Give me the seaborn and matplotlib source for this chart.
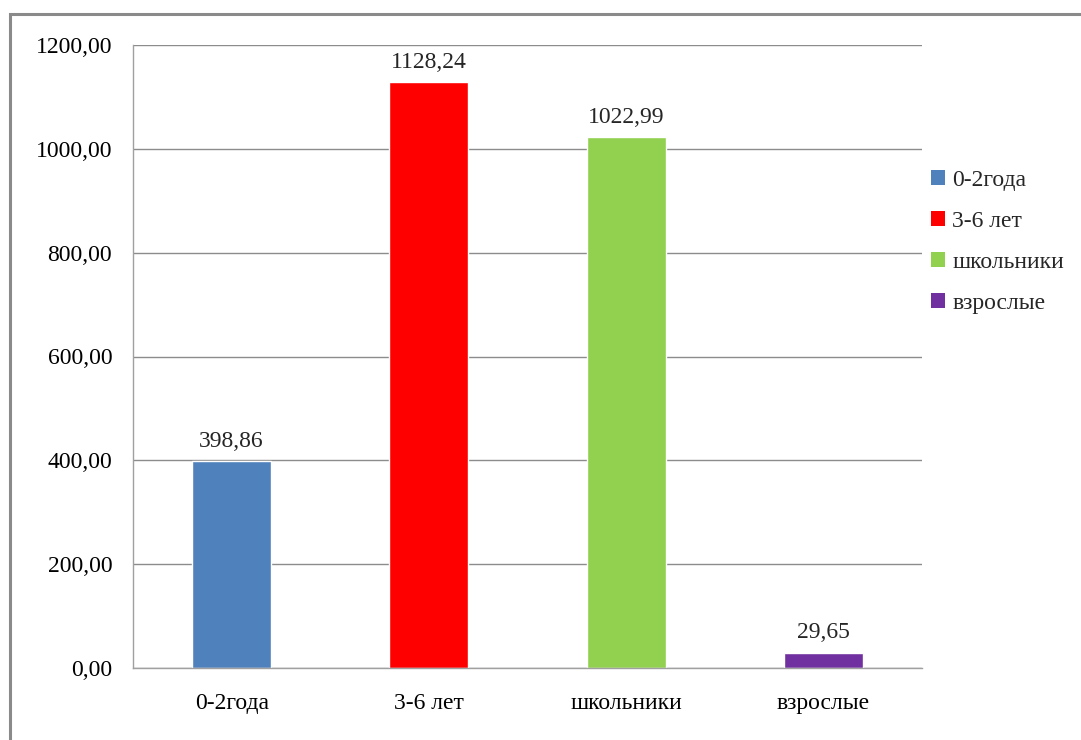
import matplotlib
matplotlib.use("Agg")
import matplotlib.pyplot as plt
import seaborn as sns
import pandas as pd
from matplotlib.patches import Rectangle, Patch

categories = ["0-2года", "3-6 лет", "школьники", "взрослые"]
values = [398.86, 1128.24, 1022.99, 29.65]
colors = ["#4F81BD", "#FF0000", "#92D050", "#7030A0"]
yticks = [0, 200, 400, 600, 800, 1000, 1200]

sns.set_theme(style="white")
plt.rcParams['font.family'] = ['Liberation Serif', 'DejaVu Serif']

df = pd.DataFrame({"cat": categories, "val": values})

fig = plt.figure(figsize=(10.81, 7.4), dpi=100)
ax = fig.add_axes([133/1081, 1-668/740, (922-133)/1081, (668-45)/740])

sns.barplot(data=df, x="cat", y="val", hue="cat", palette=colors, order=categories,
            hue_order=categories, width=0.4, dodge=False, legend=False, ax=ax, saturation=1)

FS = 17
ax.set_xlim(-0.5, 3.5)
ax.set_ylim(0, 1200)
ax.set_yticks(yticks)
ax.set_yticklabels([f"{v:.2f}".replace(".", ",") for v in yticks], fontsize=FS, color="black")
ax.tick_params(axis="x", labelsize=FS, colors="black", length=0, pad=18)
ax.tick_params(axis="y", length=0, pad=15)
ax.set_xlabel("")
ax.set_ylabel("")
ax.yaxis.grid(True, color="#8c8c8c", linewidth=1)
ax.set_axisbelow(True)
for s in ["top", "right"]:
    ax.spines[s].set_visible(False)
ax.spines["left"].set_color("#a0a0a0")
ax.spines["bottom"].set_color("#a0a0a0")
ax.spines["left"].set_linewidth(1)
ax.spines["bottom"].set_linewidth(1)

for i, v in enumerate(values):
    ax.text(i, v + 18, f"{v:.2f}".replace(".", ","), ha="center", va="bottom", fontsize=FS)

handles = [Patch(facecolor=c, edgecolor="none") for c in colors]
fig.legend(handles, categories, loc="center left", bbox_to_anchor=(931/1081, 1-242/740),
           frameon=False, fontsize=FS, handlelength=0.6, handleheight=0.6,
           handletextpad=0.3, labelspacing=0.85, borderaxespad=0, borderpad=0)

fig.patches.append(Rectangle((10/1081, -0.1), 1.2, 1-14/740+0.1, transform=fig.transFigure,
                             fill=False, edgecolor="#8a8a8a", linewidth=2.2))

fig.savefig("out.png", dpi=100)
